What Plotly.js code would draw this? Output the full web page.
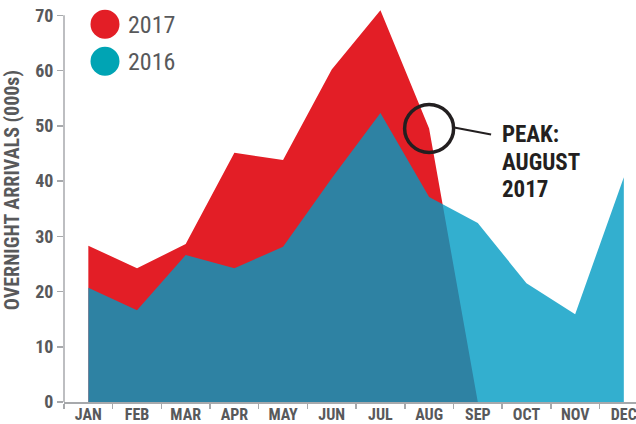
<!DOCTYPE html>
<html>
<head>
<meta charset="utf-8">
<script src="https://cdn.plot.ly/plotly-3.0.1.min.js"></script>
<style>html,body{margin:0;padding:0;background:#fff;}#chart{width:636px;height:424px;}</style>
</head>
<body>
<div id="chart"></div>
<script>
const months = ["JAN","FEB","MAR","APR","MAY","JUN","JUL","AUG","SEP","OCT","NOV","DEC"];
const arrivals2017 = [28.3, 24.2, 28.6, 45.1, 43.8, 60.2, 70.9, 49.5, 0];
const arrivals2016 = [20.7, 16.6, 26.6, 24.2, 28.1, 40.5, 52.3, 37.1, 32.4, 21.5, 15.9, 40.7];
const yTicks = [0, 10, 20, 30, 40, 50, 60, 70];
const seriesNames = ["2017", "2016"];
const peakMonth = "AUG";
const yTitle = "OVERNIGHT ARRIVALS (000s)";
const peakLabel = ["PEAK:", "AUGUST", "2017"];

const FONT = "'Roboto Condensed', 'Liberation Sans Narrow', 'Roboto', sans-serif";
const GRAY = "#58595B";
const AXIS = "#A7A9AC";

const peakIdx = months.indexOf(peakMonth);
const peakVal = arrivals2017[peakIdx];

// plot area in pixels: top 6.7, bottom 402 -> paper y helper
const PT = 6.7, PB = 402, PL = 64, PR = 636;
const py = p => (PB - p) / (PB - PT);
const px = p => (p - PL) / (PR - PL);

const traces = [
  {
    x: months.slice(0, arrivals2017.length), y: arrivals2017,
    type: "scatter", mode: "lines", fill: "tozeroy",
    line: {width: 0, color: "#E31E26"}, fillcolor: "#E31E26",
    name: seriesNames[0], showlegend: false, hoverinfo: "skip"
  },
  {
    x: months, y: arrivals2016,
    type: "scatter", mode: "lines", fill: "tozeroy",
    line: {width: 0, color: "rgba(0,155,195,0.8)"}, fillcolor: "rgba(0,155,195,0.8)",
    name: seriesNames[1], showlegend: false, hoverinfo: "skip"
  }
];

const peakLines = peakLabel.map((t, i) => ({
  xref: "paper", yref: "paper", x: px(500), y: py([134, 162, 189][i]),
  xanchor: "left", yanchor: "middle", text: t, showarrow: false,
  font: {family: FONT, size: 23, color: "#231F20", weight: "bold"}
}));

const layout = {
  width: 636, height: 424,
  margin: {l: PL, r: 0, t: PT, b: 424 - PB},
  paper_bgcolor: "#fff", plot_bgcolor: "#fff",
  font: {family: FONT, color: GRAY},
  showlegend: false,
  xaxis: {
    type: "category", categoryorder: "array", categoryarray: months,
    range: [-0.5, 11.25], tickson: "boundaries",
    ticks: "outside", ticklen: 5, tickcolor: AXIS, tickwidth: 1.5,
    ticklabelstandoff: -3,
    showline: true, linecolor: AXIS, linewidth: 1.5,
    showgrid: false, zeroline: false, automargin: false,
    tickfont: {family: FONT, size: 16, color: GRAY, weight: "bold"}
  },
  yaxis: {
    range: [0, 71.5], tickvals: yTicks,
    ticks: "outside", ticklen: 6, tickcolor: AXIS, tickwidth: 1.5,
    showline: false, showgrid: false, zeroline: false, automargin: false,
    tickfont: {family: FONT, size: 18, color: GRAY, weight: "bold"}
  },
  shapes: [
    {type: "line", xref: "paper", yref: "y", x0: 0, x1: 0, y0: 0, y1: yTicks[yTicks.length - 1],
     line: {color: AXIS, width: 1.5}},
    {type: "circle", xref: "x", yref: "y", xsizemode: "pixel", ysizemode: "pixel",
     xanchor: peakIdx, yanchor: peakVal, x0: -24.5, x1: 24.5, y0: -24, y1: 24,
     line: {color: "#231F20", width: 3.5}, fillcolor: "rgba(0,0,0,0)"},
    {type: "line", xref: "x", yref: "y", xsizemode: "pixel", ysizemode: "pixel",
     xanchor: peakIdx, yanchor: peakVal, x0: 25, x1: 62, y0: 1, y1: -6,
     line: {color: "#231F20", width: 2}},
    {type: "circle", xref: "paper", yref: "paper", xsizemode: "pixel", ysizemode: "pixel",
     xanchor: px(105), yanchor: py(24), x0: -14.5, x1: 14.5, y0: -14.5, y1: 14.5,
     line: {width: 0}, fillcolor: "#E31E26"},
    {type: "circle", xref: "paper", yref: "paper", xsizemode: "pixel", ysizemode: "pixel",
     xanchor: px(105), yanchor: py(61), x0: -14.5, x1: 14.5, y0: -14.5, y1: 14.5,
     line: {width: 0}, fillcolor: "#00A4B4"}
  ],
  annotations: [
    {xref: "paper", yref: "paper", x: px(126), y: py(25), xanchor: "left", yanchor: "middle",
     text: seriesNames[0], showarrow: false, font: {family: FONT, size: 24, color: GRAY}},
    {xref: "paper", yref: "paper", x: px(126), y: py(62), xanchor: "left", yanchor: "middle",
     text: seriesNames[1], showarrow: false, font: {family: FONT, size: 24, color: GRAY}},
    ...peakLines,
    {xref: "paper", yref: "paper", x: px(12), y: py(190), xanchor: "center", yanchor: "middle",
     textangle: -90, text: yTitle, showarrow: false,
     font: {family: FONT, size: 20, color: GRAY, weight: "bold"}}
  ]
};

Plotly.newPlot("chart", traces, layout, {displayModeBar: false, staticPlot: true});
</script>
</body>
</html>
